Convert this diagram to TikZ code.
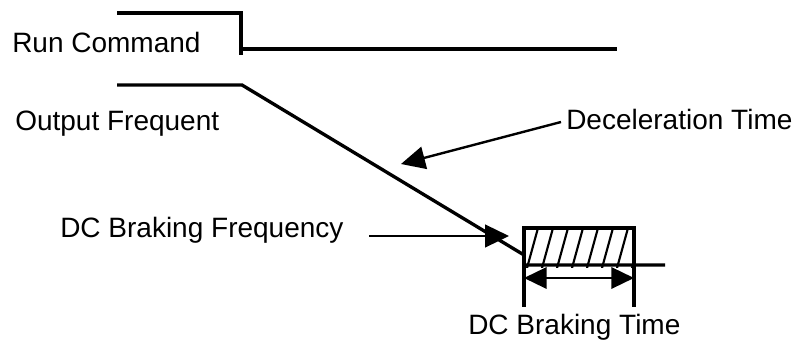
\documentclass[tikz,border=0pt]{standalone}
\usepackage{fontspec}
\setmainfont{Liberation Sans}
\usetikzlibrary{arrows.meta}

\begin{document}
\begin{tikzpicture}[x=0.75pt,y=0.75pt,yscale=-1,xscale=1,
	signal/.style={line width=2.5pt},
	pointer/.style={line width=1.8pt,-{Triangle[length=18pt,width=17pt]}},
	span/.style={line width=1.8pt,{Triangle[length=17pt,width=16pt]}-{Triangle[length=17pt,width=16pt]}},
	hatch/.style={line width=1.6pt},
	label/.style={anchor=base west,inner sep=0pt,font=\fontsize{21}{25}\selectfont}]
	\useasboundingbox (0,0) rectangle (792,341);
	
	% points of the curves
	\coordinate (runA) at (117,13);
	\coordinate (runB) at (241,13);
	\coordinate (runC) at (241,55);
	\coordinate (runD) at (241,49);
	\coordinate (runE) at (617,49);
	\coordinate (outA) at (117,85);
	\coordinate (outB) at (242,85);
	\coordinate (brkA) at (524,255);
	\coordinate (brkB) at (524,265);
	\coordinate (brkC) at (665,265);
	\coordinate (boxTL) at (524,228);
	\coordinate (boxBR) at (634,265);
	\coordinate (boxLL) at (524,307);
	\coordinate (boxRL) at (634,307);
	\coordinate (boxRT) at (634,228);
	
	% Text Node
	\node[label] (runlbl) at (12,53) {Run Command};
	% Text Node
	\node[label] (outlbl) at (15,131) {Output Frequent};
	% Text Node
	\node[label] (declbl) at (566,130) {Deceleration Time};
	% Text Node
	\node[label] (frqlbl) at (60,238) {DC Braking Frequency};
	% Text Node
	\node[label] (timlbl) at (468,335) {DC Braking Time};
	
	%Run command
	\draw[signal] (runA) -- (runB) -- (runC);
	\draw[signal] (runD) -- (runE);
	%Output frequency
	\draw[signal] (outA) -- (outB) -- (brkA) -- (brkB) -- (brkC);
	%Braking box
	\draw[signal] (boxLL) -- (boxTL) -- (boxRT) -- (boxRL);
	\begin{scope}
		\clip (boxTL) rectangle (634,268);
		\foreach \x in {512,527,...,647}
			\draw[hatch] (\x,268) -- (\x+11,228);
	\end{scope}
	\draw[span] (524,278) -- (634,278);
	
	%Arrows
	\draw[pointer] (561,122) -- (401,164);
	\draw[pointer] (369,236) -- (509,236);
\end{tikzpicture}
\end{document}
